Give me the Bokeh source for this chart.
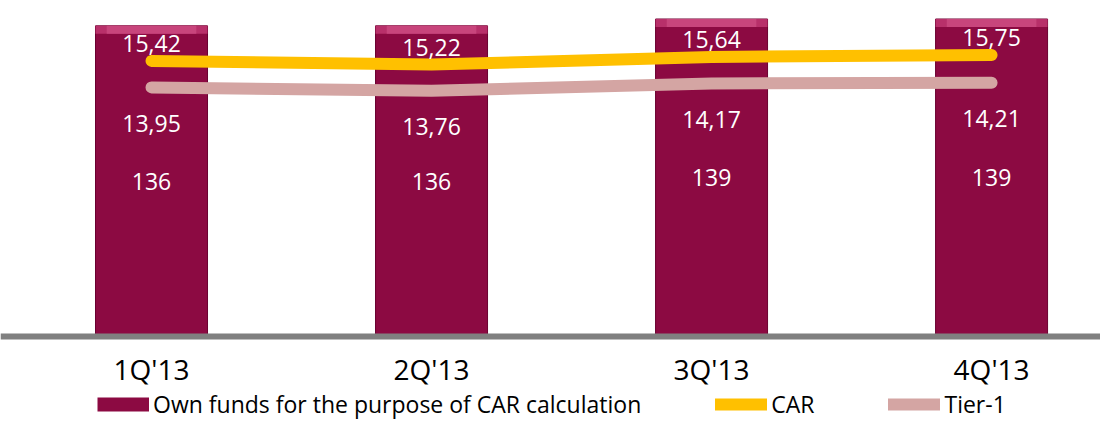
from bokeh.plotting import figure
from bokeh.models import Range1d, ColumnDataSource, Legend, LegendItem, Span
from bokeh.embed import file_html
from bokeh.resources import INLINE
from bokeh.core.properties import value

quarters = ["1Q'13", "2Q'13", "3Q'13", "4Q'13"]
own_funds = [136, 136, 139, 139]
car = [15.42, 15.22, 15.64, 15.75]
tier1 = [13.95, 13.76, 14.17, 14.21]


def fmt(v):
    return f"{v:.2f}".replace(".", ",")


xs = list(range(len(quarters)))
BEVEL = 3.5  # style: depth of the lighter top bevel, in bar units

src = ColumnDataSource(dict(
    x=xs,
    cat=quarters,
    zero=[0] * len(xs),
    funds=own_funds,
    bevel_bottom=[v - BEVEL for v in own_funds],
    half=[v / 2 for v in own_funds],
    funds_lbl=[str(v) for v in own_funds],
    car=car,
    car_lbl=[fmt(v) for v in car],
    tier1=tier1,
    tier1_lbl=[fmt(v) for v in tier1],
))

FONT = "Open Sans"
BAR = "#8C0A42"

p = figure(width=1100, height=420, output_backend="svg", toolbar_location=None,
           x_range=Range1d(-0.5393, 3.389), y_range=Range1d(-36.78, 147.1),
           x_axis_location=None, y_axis_location=None,
           min_border_left=0, min_border_right=0, min_border_top=0,
           min_border_bottom=0)
p.extra_y_ranges = {"pct": Range1d(-4.524, 18.77)}
p.outline_line_color = None
p.xgrid.visible = False
p.ygrid.visible = False
p.background_fill_color = "white"

bars = p.vbar(x="x", top="funds", bottom=0, width=0.4, source=src,
              fill_color=BAR, line_color="#6A0030", line_width=1)
p.vbar(x="x", top="funds", bottom="bevel_bottom", width=0.4, source=src,
       fill_color="#B8306A", line_color=None)
p.vbar(x="x", top="funds", bottom="bevel_bottom", width=0.32, source=src,
       fill_color="#C8457C", line_color=None)

# category axis baseline
p.add_layout(Span(location=0, dimension="width", line_width=6,
                  line_color="#808080"))

tier_line = p.line(x="x", y="tier1", source=src, y_range_name="pct",
                   line_width=12, line_color="#D4A5A3", line_cap="round",
                   line_join="round")
car_line = p.line(x="x", y="car", source=src, y_range_name="pct",
                  line_width=12, line_color="#FFC000", line_cap="round",
                  line_join="round")

# legend-only proxy: a thick butt-capped stroke reads as the bar swatch
bar_swatch = p.line(x=[0], y=[float("nan")], line_width=14, line_color=BAR,
                    line_cap="butt")

common = dict(text_font=value(FONT), text_font_size="23px", text_color="white",
              text_align="center", text_baseline="middle")
p.text(x="x", y="car", text="car_lbl", source=src, y_range_name="pct",
       y_offset=-17, **common)
p.text(x="x", y="tier1", text="tier1_lbl", source=src, y_range_name="pct",
       y_offset=36, **common)
p.text(x="x", y="half", text="funds_lbl", source=src, **common)

# category labels under the baseline
p.text(x="x", y="zero", text="cat", source=src, y_offset=33,
       text_font=value(FONT), text_font_size="28px", text_color="black",
       text_align="center", text_baseline="middle")

legend = Legend(items=[
    LegendItem(label="Own funds for the purpose of CAR calculation", renderers=[bar_swatch]),
    LegendItem(label="CAR", renderers=[car_line]),
    LegendItem(label="Tier-1", renderers=[tier_line]),
], orientation="horizontal", location=(97, 0), glyph_width=52,
    glyph_height=30, label_standoff=4, spacing=74, padding=0, margin=0,
    border_line_color=None, background_fill_alpha=0,
    label_text_font=FONT, label_text_font_size="23px",
    label_text_color="black")
p.add_layout(legend)

open("out.html", "w").write(file_html(p, INLINE))
